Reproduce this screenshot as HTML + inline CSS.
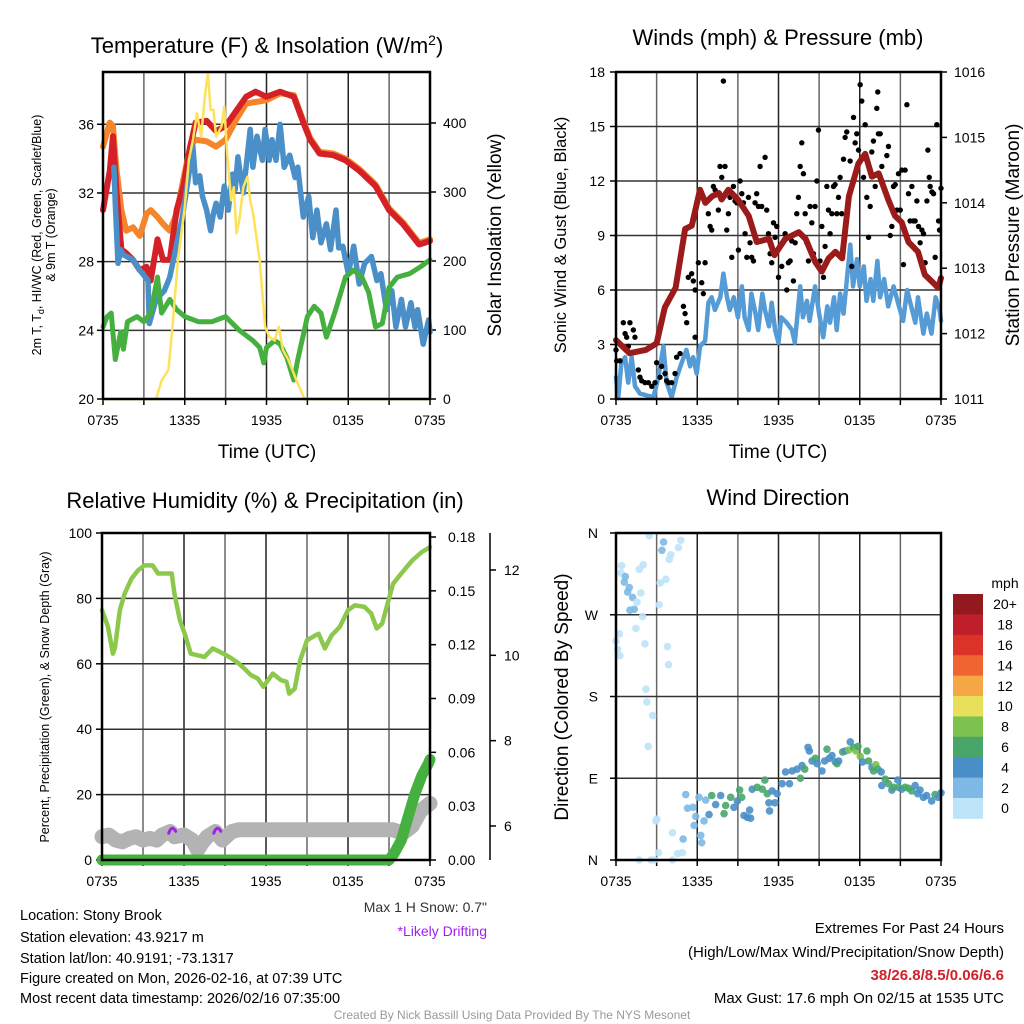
<!DOCTYPE html>
<html><head><meta charset="utf-8"><style>
html,body{margin:0;padding:0;background:#fff}
svg{display:block;font-family:"Liberation Sans",sans-serif}
</style></head><body>
<svg id="root" width="1024" height="1024" viewBox="0 0 1024 1024" xmlns="http://www.w3.org/2000/svg">
<rect width="1024" height="1024" fill="#fff"/>
<text x="267" y="53" font-size="22" text-anchor="middle">Temperature (F) &amp; Insolation (W/m<tspan dy="-8" font-size="14">2</tspan><tspan dy="8">)</tspan></text>
<text x="778" y="45" font-size="22" text-anchor="middle">Winds (mph) &amp; Pressure (mb)</text>
<text x="265" y="508" font-size="22" text-anchor="middle">Relative Humidity (%) &amp; Precipitation (in)</text>
<text x="778" y="505" font-size="22" text-anchor="middle">Wind Direction</text>
<text x="267" y="458" font-size="19" text-anchor="middle">Time (UTC)</text>
<text x="778" y="458" font-size="19" text-anchor="middle">Time (UTC)</text>
<text transform="translate(41,235) rotate(-90)" font-size="12.5" text-anchor="middle">2m T, T<tspan dy="3" font-size="9">d</tspan><tspan dy="-3">, HI/WC (Red, Green, Scarlet/Blue)</tspan></text>
<text transform="translate(55,235) rotate(-90)" font-size="12.5" text-anchor="middle">&amp; 9m T (Orange)</text>
<text transform="translate(501,235) rotate(-90)" font-size="19" text-anchor="middle">Solar Insolation (Yellow)</text>
<text transform="translate(566,235) rotate(-90)" font-size="16.5" text-anchor="middle">Sonic Wind &amp; Gust (Blue, Black)</text>
<text transform="translate(1019,235) rotate(-90)" font-size="19" text-anchor="middle">Station Pressure (Maroon)</text>
<text transform="translate(49,697) rotate(-90)" font-size="12.5" text-anchor="middle">Percent, Precipitation (Green), &amp; Snow Depth (Gray)</text>
<text transform="translate(568,697) rotate(-90)" font-size="19" text-anchor="middle">Direction (Colored By Speed)</text>
<text x="487" y="912" font-size="14" fill="#333" text-anchor="end">Max 1 H Snow: 0.7"</text>
<text x="487" y="936" font-size="14" fill="#a020f0" text-anchor="end">*Likely Drifting</text>
<g font-size="14.5">
<text x="20" y="920">Location: Stony Brook</text>
<text x="20" y="942">Station elevation: 43.9217 m</text>
<text x="20" y="963">Station lat/lon: 40.9191; -73.1317</text>
<text x="20" y="983">Figure created on Mon, 2026-02-16, at 07:39 UTC</text>
<text x="20" y="1003">Most recent data timestamp: 2026/02/16 07:35:00</text>
</g>
<g font-size="15" text-anchor="end">
<text x="1004" y="933">Extremes For Past 24 Hours</text>
<text x="1004" y="957">(High/Low/Max Wind/Precipitation/Snow Depth)</text>
<text x="1004" y="980" fill="#d0202a" font-weight="bold">38/26.8/8.5/0.06/6.6</text>
<text x="1004" y="1003">Max Gust: 17.6 mph On 02/15 at 1535 UTC</text>
</g>
<text x="512" y="1019" font-size="12" fill="#999" text-anchor="middle">Created By Nick Bassill Using Data Provided By The NYS Mesonet</text>
</svg>
<script>
// ---------- Panel 1 data ----------
const tTemp=[0,0.5,0.73,1,1.35,1.7,2.2,2.7,3.2,3.5,4.0,4.4,4.9,5.4,5.9,6.4,6.8,7.6,8.3,9.0,9.8,10.5,11.2,12,13,14,14.7,15.2,15.9,16.9,17.8,18.8,20,21,22,23.2,24];
const temp2m=[31.0,33.3,35.3,32,28.7,28.5,28.1,27.5,27.7,26.9,29.3,28.1,28.1,31.0,32.4,34.7,36.1,36.2,35.6,35.9,36.8,37.6,37.9,37.6,37.9,37.6,36.1,35.1,34.3,34.2,33.9,33.3,32.4,31.0,30.2,29.0,29.2];
const temp9m=[34.7,36.1,35.9,33.3,31.0,29.8,30.0,29.5,30.8,31.0,30.6,30.2,29.8,30.8,32.8,34.7,35.1,35.0,34.7,35.1,36.3,37.2,37.3,37.4,37.8,37.7,36.2,35.2,34.4,34.3,34.0,33.4,32.5,31.1,30.3,29.1,29.3];
const tChill=[0.8,0.9,1.1,1.3,1.5,2.2,2.7,3.3,3.4,3.9,4.5,4.9,5.4,5.8,6.1,6.4,6.6,6.8,7.1,7.3,7.6,7.9,8.1,8.3,8.6,8.9,9.2,9.5,9.7,9.9,10.1,10.3,10.8,11.0,11.3,11.7,11.9,12.2,12.4,12.7,13.0,13.3,13.7,14.1,14.3,14.7,15.1,15.4,15.7,16.0,16.4,16.7,17.1,17.3,17.6,18.0,18.4,18.8,19.2,19.7,20.1,20.4,20.8,21.2,21.5,21.9,22.2,22.6,22.9,23.1,23.5,23.9,24];
const windChill=[33.5,31.4,27.9,28.7,28.4,28.1,27.5,26.9,24.4,25.8,26.3,27.1,29.0,30.5,32.0,33.6,34.7,32.6,33.0,31.8,31.0,29.8,30.8,31.4,30.6,32.4,31.0,33.1,32.2,34.1,33.0,32.0,35.7,33.5,35.3,33.9,35.7,33.9,35.1,33.9,36.0,33.5,34.2,32.9,33.5,30.6,31.8,29.4,31.0,29.1,30.2,28.7,31.0,28.8,28.9,27.3,28.9,26.7,27.9,28.3,26.9,27.3,25.2,26.3,24.2,25.8,24.2,25.6,24.2,25.2,23.2,24.6,23.9];
const tDew=[0,0.3,0.6,0.9,1.3,1.5,1.8,2.5,3.0,3.5,4.0,4.3,4.9,5.4,6,7,8,9,10,11,11.5,11.8,12,12.6,13,13.5,14,14.3,15,15.5,16,16.4,17,17.8,18.4,19,19.5,20,20.5,21,21.6,22.5,23.3,24];
const dewpoint=[24.2,24.8,25,22.3,23.9,22.9,24.5,24.8,24.5,25.0,27.1,25.0,25.8,25.2,24.8,24.5,24.5,24.8,24.0,23.4,23.0,22.1,23.0,23.4,23.2,22.4,21.1,22.3,24.8,25.4,25.0,23.6,25.0,27.1,27.5,27.1,26.2,24.2,24.4,26.5,27.1,27.3,27.7,28.1];
const tSolar=[0,3.9,4.3,4.8,5.1,5.5,6,6.3,6.6,6.9,7.2,7.5,7.7,7.9,8.1,8.3,8.7,8.9,9.1,9.4,9.6,9.8,10,10.3,10.6,10.8,11,11.5,11.9,12.2,12.6,12.9,13.2,13.6,14.2,14.8,24];
const solar=[0,0,27,42,105,201,279,346,375,414,380,443,472,419,419,380,395,424,360,288,307,240,259,307,322,288,270,201,105,90,85,105,71,57,27,0,0];
const tempTicks=[20,24,28,32,36];
const solarTicks=[0,100,200,300,400];
const timeLabels=["0735","1335","1935","0135","0735"];
// ---------- Panel 2 data ----------
const tPress=[0,1,2.2,3,3.6,4.4,5.1,5.6,6.2,6.6,7.1,7.6,7.8,8.3,9.0,9.8,10.4,11.3,11.7,12.5,13.5,14.0,14.7,15.2,15.7,16.2,16.7,17.2,17.9,18.4,18.9,19.4,20.1,20.6,21.1,21.6,22.3,22.8,23.8,24];
const pressure=[1011.9,1011.7,1011.75,1011.85,1012.4,1012.7,1013.6,1013.65,1014.2,1014.0,1014.1,1014.15,1014.05,1014.2,1014.05,1013.8,1013.4,1013.45,1013.2,1013.45,1013.55,1013.45,1013.1,1012.95,1013.15,1013.25,1013.15,1014.1,1014.6,1014.75,1014.4,1014.45,1014.05,1013.8,1013.7,1013.4,1013.25,1012.9,1012.7,1012.85];
const tSonic=[0,0.17,0.4,0.67,0.9,1.16,1.4,1.77,2.27,2.76,3.13,3.5,3.74,4.11,4.48,4.85,5.2,5.47,5.7,5.96,6.2,6.58,6.82,7.07,7.3,7.7,7.93,8.2,8.4,8.7,9.0,9.3,9.5,9.8,10.0,10.3,10.5,10.8,11.0,11.3,11.5,11.75,12.0,12.2,12.6,13.0,13.2,13.6,13.8,14.1,14.3,14.7,15.0,15.3,15.6,15.8,16.1,16.3,16.55,16.8,17.0,17.3,17.5,17.8,18.0,18.3,18.5,18.8,19.0,19.3,19.5,19.8,20.1,20.5,20.9,21.2,21.5,21.8,22.1,22.3,22.7,22.95,23.3,23.6,23.9,24];
const sonicWind=[1.2,0.1,2.0,2.3,0.9,2.3,0.7,0.3,0.2,0.1,1.2,2.9,0.9,0.1,1.2,2.0,2.7,1.8,2.3,1.4,2.9,3.2,5.3,5.6,4.9,5.6,6.9,5.6,4.9,5.6,4.5,6.2,4.5,3.8,5.8,4.7,3.8,5.8,4.9,4.0,5.3,3.8,3.1,4.5,4.2,3.8,3.1,6.2,4.5,5.4,4.3,6.2,4.7,3.4,5.1,4.2,5.6,3.8,5.8,4.7,6.2,8.5,6.2,7.7,6.2,7.3,5.4,6.6,5.4,7.6,5.6,6.6,5.1,6.2,5.1,4.3,6.0,5.1,4.2,5.6,3.6,4.7,3.6,5.6,4.9,4.3];
const tGust=[0,0.05,0.3,0.54,0.67,0.79,0.91,1.03,1.28,1.4,1.65,1.77,1.9,2.14,2.39,2.64,2.88,3.0,3.25,3.37,3.5,3.62,3.74,3.87,4.11,4.36,4.48,4.73,4.98,5.1,5.22,5.34,5.59,5.71,5.84,5.84,6.08,6.33,6.45,6.58,6.82,6.95,7.07,7.19,7.32,7.56,7.68,7.81,7.93,8.05,8.18,8.3,8.42,8.55,8.67,8.79,8.92,9.04,9.16,9.29,9.41,9.53,9.66,9.78,9.9,10.02,10.15,10.27,10.39,10.52,10.64,10.76,11.01,11.13,11.26,11.38,11.5,11.63,11.75,11.87,12.0,12.12,12.24,12.49,12.61,12.73,12.86,12.98,13.1,13.23,13.35,13.47,13.6,13.72,13.84,13.97,14.09,14.21,14.33,14.46,14.58,14.7,14.83,14.95,15.07,15.2,15.32,15.44,15.57,15.69,15.81,15.94,16.06,16.18,16.31,16.43,16.55,16.67,16.8,16.92,17.04,17.29,17.41,17.54,17.66,17.78,17.91,18.03,18.15,18.28,18.4,18.52,18.65,18.77,18.89,19.01,19.14,19.26,19.33,19.38,19.51,19.63,20.0,20.12,20.25,20.37,20.49,20.62,20.74,20.86,20.99,21.11,21.23,21.35,21.48,21.6,21.72,21.85,21.97,22.09,22.22,22.34,22.46,22.59,22.71,22.83,22.96,23.03,23.13,23.2,23.33,23.45,23.57,23.69,23.82,23.89,24.0];
const gust=[2.7,2.1,2.1,4.2,3.6,3.4,2.9,4.2,3.8,3.4,1.6,1.2,1.0,0.9,0.9,0.7,0.9,2.0,1.2,1.8,4.7,1.4,1.0,0.9,0.9,1.4,2.3,2.5,5.1,4.7,4.2,6.7,6.9,6.5,6.0,3.4,7.5,6.4,5.8,7.5,10.2,9.5,9.3,11.7,11.5,10.4,12.8,12.2,17.5,12.8,9.3,10.2,11.1,7.8,11.7,10.9,10.8,8.2,12.0,11.3,10.8,9.1,7.8,11.1,8.6,7.8,7.6,10.8,11.3,10.6,12.8,10.6,13.3,10.4,9.1,8.0,7.5,9.7,8.9,9.5,6.7,8.4,7.3,9.1,6.0,7.5,7.6,8.7,6.5,8.6,10.2,11.1,12.8,14.1,12.4,10.2,8.6,7.6,10.6,9.7,8.0,10.6,12.0,14.8,7.6,9.5,6.7,8.4,11.7,10.4,9.1,10.2,11.7,11.8,10.2,11.1,12.2,10.2,13.2,14.4,14.7,13.1,7.3,15.5,14.1,14.6,13.7,17.3,16.4,12.2,15.1,11.1,8.9,10.6,13.6,14.2,11.7,16.0,16.9,14.6,14.6,12.8,13.4,13.9,9.0,9.5,11.7,11.8,10.4,12.4,10.4,12.6,7.4,12.6,16.2,11.3,9.8,11.7,9.8,9.8,10.9,9.5,8.6,9.3,9.1,7.5,10.9,13.7,12.2,11.7,11.4,11.3,7.8,15.1,9.8,9.3,11.6];
const windTicks=[0,3,6,9,12,15,18];
const pressTicks=[1011,1012,1013,1014,1015,1016];
// ---------- Panel 3 data ----------
const tRH=[0,0.44,0.8,0.95,1.3,1.66,2.15,2.64,3.1,3.7,4.1,4.6,5.1,5.3,5.7,6.05,6.5,7.0,7.5,8.1,8.6,9.1,9.5,10,10.4,10.9,11.4,11.8,12.5,13.1,13.5,13.7,14.1,14.5,15,15.6,15.85,16.3,16.8,17.4,18,18.5,19.2,19.7,20.1,20.5,20.9,21.3,21.9,22.7,23.4,24];
const relHum=[76.4,71.3,63.1,65,76.4,81.5,86,88.6,90.1,90.1,87.6,87.6,87.6,81.5,73.3,69.2,63.1,62.6,62.1,64.7,63.7,62.6,61.6,60.1,58.6,56.5,55.5,53,57,55,54.5,50.9,52.4,61.1,67.2,68.7,69.2,64.7,68.7,71.3,76.4,77.9,77.4,75.4,70.8,72.3,78.4,84.5,87.6,91.6,94.2,95.7];
const tSnow=[0,0.5,1,1.5,2,2.5,3,3.5,4,4.4,5,5.3,6,6.6,7,7.3,7.7,8.3,8.8,9.5,10,21.3,22,22.7,23.3,24];
const snowDepth=[5.75,5.79,5.67,5.63,5.71,5.75,5.67,5.71,5.67,5.79,5.87,5.75,5.79,5.67,5.44,5.59,5.75,5.87,5.67,5.87,5.91,5.91,5.83,6.0,6.35,6.53];
const tPrecip=[0,21,21.4,21.9,22.4,22.9,23.4,23.9,24];
const precip=[0,0,0.004,0.011,0.024,0.037,0.047,0.054,0.056];
const tDrift=[5.1,8.4];
const driftDepth=[5.9,5.9];
const rhTicks=[0,20,40,60,80,100];
const precipTicks=[0,0.03,0.06,0.09,0.12,0.15,0.18];
const snowTicks=[6,8,10,12];
// ---------- Panel 4 data ----------
const tDir=[2.45,3.51,3.39,4.79,4.61,4.05,3.93,0.42,1.72,2.01,0.37,0.69,0.61,0.98,0.86,1.23,1.84,3.68,3.26,1.55,3.19,1.35,1.03,1.96,1.47,0.25,0,0.12,0.29,2.13,3.80,3.88,2.21,2.28,2.70,2.38,2.94,3.02,4.17,4.96,3.14,4.54,4.91,1.72,2.58,2.82,4.17,
5.15,5.28,5.69,6.13,6.63,5.89,5.77,6.26,6.33,6.50,6.87,7.07,7.36,7.73,7.98,8.10,8.47,8.71,8.96,9.13,9.28,9.45,9.69,9.87,9.94,10.06,10.43,10.80,10.99,11.17,11.29,11.34,11.53,11.73,11.90,12.27,12.52,12.81,13.01,13.37,13.62,13.74,13.94,14.18,14.28,14.48,14.72,14.85,15.21,15.41,15.58,15.75,15.95,16.20,16.32,16.44,16.74,16.93,17.18,17.30,17.55,17.72,17.87,18.04,18.21,18.53,18.65,18.90,19.02,19.19,19.34,19.58,19.63,19.88,20.12,20.37,20.49,20.81,20.86,21.10,21.35,21.60,21.84,22.09,22.28,22.45,22.70,22.94,23.31,23.56,23.80,24.0];
const direction=[357,350,341,352,344,336,331,324,320,325,316,312,306,300,295,289,294,309,305,284,281,276,275,268,255,249,241,232,225,238,235,215,188,174,159,125,43,45,30,23,8,7,8,0,0,0,0,
72,57,58,69,66,48,38,27,19,43,50,71,61,71,51,60,69,58,65,77,69,49,47,55,46,78,80,78,88,73,63,54,76,63,73,84,97,84,98,100,90,104,100,124,120,109,112,106,98,109,122,112,115,108,106,109,119,120,121,130,124,120,125,114,108,120,109,102,98,105,100,97,82,89,84,77,80,88,80,78,80,79,76,82,73,77,69,71,65,72,69,74];
const dirSpeed=[1,3,3,1,1,1,1,1,1,1,1,3,3,3,3,3,1,1,1,1,1,3,3,1,1,1,1,1,1,1,1,1,1,1,1,1,1,1,1,3,1,1,1,1,1,1,1,
3,3,3,3,3,3,3,3,3,3,5,7,5,5,7,7,7,5,5,7,7,5,5,5,5,5,7,7,7,7,5,5,5,5,5,5,5,5,5,5,7,5,7,5,5,5,7,5,5,5,7,5,5,5,7,5,7,5,9,5,7,9,7,9,5,7,7,5,7,9,7,5,5,7,7,5,7,5,7,5,7,7,7,5,5,5,5,5,5,7,5,5];
const dirLabels=["N","E","S","W","N"];
const dirTicks=[0,90,180,270,360];
const speedBinLabels=["0","2","4","6","8","10","12","14","16","18","20+"];
const speedBinColors=["#bde4f8","#7db9e4","#4a8ec8","#48a66b","#7dc24e","#e8e05a","#f6a745","#ef6430","#dc3328","#bf1f2a","#921a1e"];

const NS='http://www.w3.org/2000/svg';
const root=document.getElementById('root');
function mk(tag,attrs,parent){const e=document.createElementNS(NS,tag);for(const k in attrs)e.setAttribute(k,attrs[k]);(parent||root).appendChild(e);return e;}
function pathFrom(xs,ys,fx,fy){let d='';for(let i=0;i<xs.length;i++){d+=(i?'L':'M')+fx(xs[i]).toFixed(1)+','+fy(ys[i]).toFixed(1);}return d;}

function panelFrame(x0,x1,y0,y1,name){
  const g=mk('g',{});
  
  
  for(let h=3;h<24;h+=3){
    const x=x0+(x1-x0)*h/24;
    const l=mk('line',{x1:x,y1:y0,x2:x,y2:y1,stroke:(h%6===0?'#222':'#666'),'stroke-width':1.5},g);
    
    
  }
  for(let h=0;h<=24;h+=3){
    const x=x0+(x1-x0)*h/24;
    const tk=mk('line',{x1:x,y1:y1,x2:x,y2:y1+6,stroke:'#000','stroke-width':1.5});
    
    
  }
  timeLabels.forEach((lab,i)=>{
    const x=x0+(x1-x0)*i/4;
    const t=mk('text',{x:x,y:y1+26,'font-size':14,'text-anchor':'middle'});
    t.textContent=lab;
    
    
  });
}
function hGrid(y,x0,x1){
  const l=mk('line',{x1:x0,y1:y,x2:x1,y2:y,stroke:'#333','stroke-width':1.5});
  
  
}
function border(x0,x1,y0,y1,name){
  const r=mk('rect',{x:x0,y:y0,width:x1-x0,height:y1-y0,fill:'none',stroke:'#000','stroke-width':2.5});
  
  
}
function yTick(x,y,dir,label,anchor,lx,fs){
  const l=mk('line',{x1:x,y1:y,x2:x+dir*6,y2:y,stroke:'#000','stroke-width':1.5});
  
  
  const t=mk('text',{x:lx,y:y+5,'font-size':fs||14,'text-anchor':anchor});
  t.textContent=label;
  
  
}
function line(d,color,w,name){
  const p=mk('path',{d:d,fill:'none',stroke:color,'stroke-width':w,'stroke-linejoin':'round','stroke-linecap':'round'});
  
  
  return p;
}

// ===== Panel 1 =====
(function(){
  const x0=103,x1=430,y0=72,y1=399;
  const sx=t=>x0+(x1-x0)*t/24;
  const yT=v=>y1-(v-20)*17.17;
  const yS=w=>y1-w*0.69;
  panelFrame(x0,x1,y0,y1,'temperature');
  tempTicks.forEach(v=>{hGrid(yT(v),x0,x1);yTick(x0,yT(v),-1,String(v),'end',94);});
  solarTicks.forEach(v=>yTick(x1,yS(v),1,String(v),'start',443));
  line(pathFrom(tTemp,temp9m,sx,yT),'#f5842a',6,'series-9m-temperature');
  line(pathFrom(tTemp,temp2m,sx,yT),'#d42027',6,'series-2m-temperature');
  line(pathFrom(tChill,windChill,sx,yT),'#4a8fc8',5.5,'series-wind-chill');
  line(pathFrom(tDew,dewpoint,sx,yT),'#45b040',5,'series-dewpoint');
  line(pathFrom(tSolar,solar,sx,yS),'#fde25a',2.5,'series-solar-insolation');
  border(x0,x1,y0,y1,'temperature');
})();

// ===== Panel 2 =====
(function(){
  const x0=616,x1=941,y0=72,y1=399;
  const sx=t=>x0+(x1-x0)*t/24;
  const yW=v=>y1-v*(y1-y0)/18;
  const yP=p=>y1-(p-1011)*(y1-y0)/5;
  panelFrame(x0,x1,y0,y1,'winds');
  windTicks.forEach(v=>{hGrid(yW(v),x0,x1);yTick(x0,yW(v),-1,String(v),'end',605);});
  pressTicks.forEach(v=>yTick(x1,yP(v),1,String(v),'start',954));
  line(pathFrom(tSonic,sonicWind,sx,yW),'#559bd6',4.5,'series-sonic-wind');
  tGust.forEach((t,i)=>{
    const c=mk('circle',{cx:sx(t),cy:yW(gust[i]),r:2.7,fill:'#000'});
    
    
  });
  line(pathFrom(tPress,pressure,sx,yP),'#9b1a1a',6,'series-station-pressure');
  border(x0,x1,y0,y1,'winds');
})();

// ===== Panel 3 =====
(function(){
  const x0=102,x1=430,y0=533,y1=860;
  const sx=t=>x0+(x1-x0)*t/24;
  const yR=v=>y1-v*(y1-y0)/100;
  const yPr=p=>y1-p*(y1-537)/0.18;
  const yD=d=>826-(d-6)*42.67;
  panelFrame(x0,x1,y0,y1,'humidity');
  rhTicks.forEach(v=>{hGrid(yR(v),x0,x1);yTick(x0,yR(v),-1,String(v),'end',92);});
  precipTicks.forEach(v=>yTick(x1,yPr(v),1,v.toFixed(2),'start',448));
  const ax=mk('line',{x1:490,y1:y0,x2:490,y2:y1,stroke:'#000','stroke-width':1.5});
  
  
  snowTicks.forEach(v=>yTick(490,yD(v),1,String(v),'start',504));
  line(pathFrom(tSnow,snowDepth,sx,yD),'#b3b3b3',15,'series-snow-depth');
  tDrift.forEach((t,i)=>{
    const x=sx(t),y=yD(driftDepth[i]);
    const p=mk('path',{d:'M'+(x-3)+','+(y+3)+'Q'+x+','+(y-6)+' '+(x+4)+','+(y+1),fill:'none',stroke:'#a020f0','stroke-width':3,'stroke-linecap':'round'});
    
    
  });
  line(pathFrom(tPrecip,precip,sx,yPr),'#45b040',11,'series-precipitation');
  line(pathFrom(tRH,relHum,sx,yR),'#8cc84b',4.5,'series-relative-humidity');
  border(x0,x1,y0,y1,'humidity');
})();

// ===== Panel 4 =====
(function(){
  const x0=616,x1=941,y0=533,y1=860;
  const sx=t=>x0+(x1-x0)*t/24;
  const yDir=d=>y1-d*(y1-y0)/360;
  panelFrame(x0,x1,y0,y1,'direction');
  dirTicks.forEach((v,i)=>{hGrid(yDir(v),x0,x1);yTick(x0,yDir(v),-1,dirLabels[i],'end',598);});
  tDir.forEach((t,i)=>{
    const bin=Math.min(10,Math.floor(dirSpeed[i]/2));
    const c=mk('circle',{cx:sx(t),cy:yDir(direction[i]),r:3.8,fill:speedBinColors[bin],'fill-opacity':0.9});
    
    
  });
  border(x0,x1,y0,y1,'direction');
  const cb=mk('g',{});
  
  
  const top=594,h=20.4;
  const mph=mk('text',{x:1005,y:588,'font-size':14,'text-anchor':'middle'},cb);
  mph.textContent='mph';
  
  
  for(let i=0;i<11;i++){
    const bin=10-i;
    const r=mk('rect',{x:953,y:top+i*h,width:30,height:h+0.5,fill:speedBinColors[bin]},cb);
    
    
    const t=mk('text',{x:1005,y:top+i*h+h/2+5,'font-size':14,'text-anchor':'middle'},cb);
    t.textContent=speedBinLabels[bin];
    
    
  }
})();
</script>
</body></html>
